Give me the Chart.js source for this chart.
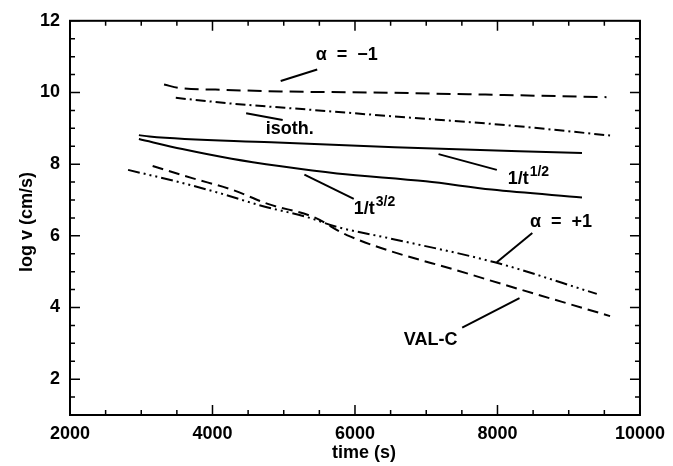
<!DOCTYPE html>
<html>
<head>
<meta charset="utf-8">
<script src="https://cdn.jsdelivr.net/npm/chart.js@4.4.1/dist/chart.umd.min.js"></script>
<style>
  html, body { margin: 0; padding: 0; background: #fff; }
  #wrap { width: 673px; height: 466px; }
</style>
</head>
<body>
<div id="wrap"><canvas id="chart"></canvas></div>
<script>
// axis ticks
const xTicks = [2000, 4000, 6000, 8000, 10000];
const yTicks = [2, 4, 6, 8, 10, 12];

// alpha = -1 (long dashes)
const alphaMinusT = [3320, 3550, 4040, 4960, 6530, 7830, 9530];
const alphaMinusV = [10.22, 10.12, 10.08, 10.03, 9.99, 9.94, 9.87];

// isothermal (dash-dot)
const isothT = [3485, 4270, 5425, 6555, 8055, 9580];
const isothV = [9.85, 9.69, 9.51, 9.33, 9.10, 8.80];

// 1/t^1/2 (solid)
const halfT = [2967, 3115, 4823, 6555, 9186];
const halfV = [8.81, 8.77, 8.61, 8.47, 8.31];

// 1/t^3/2 (solid)
const threeHalfT = [2967, 3576, 4269, 4962, 5747, 6994, 7917, 9186];
const threeHalfV = [8.70, 8.42, 8.15, 7.94, 7.74, 7.52, 7.29, 7.07];

// VAL-C (dashed)
const valcT = [3160, 3715, 4270, 4777, 5424, 5885, 7593, 9580];
const valcV = [7.95, 7.61, 7.29, 6.89, 6.52, 6.02, 4.94, 3.76];

// alpha = +1 (dash-dot-dot-dot)
const alphaPlusT = [2815, 3485, 4085, 4685, 5331, 5746, 6485, 7963, 9394];
const alphaPlusV = [7.84, 7.52, 7.20, 6.84, 6.52, 6.25, 5.93, 5.26, 4.38];

// curve labels and their pointer lines, in data units
const labelText = ['α  =  −1', 'isoth.', '1/t', '1/t', 'α  =  +1', 'VAL-C'];
const labelSup = ['', '', '1/2', '3/2', '', ''];
const labelT = [5885, 5083, 8143, 5983, 8891, 7062];
const labelV = [11.05, 8.99, 7.44, 6.60, 6.38, 3.09];
const labelAlign = ['center', 'center', 'left', 'left', 'center', 'center'];
const pointerT = [[4957, 5470], [4472, 4985], [7173, 7991], [5290, 5983], [8489, 7990], [7505, 8309]];
const pointerV = [[10.32, 10.64], [9.42, 9.23], [8.28, 7.84], [7.71, 7.03], [6.08, 5.26], [3.44, 4.26]];

const FONT = 'Liberation Sans, Arial, sans-serif';

function pts(ts, vs) {
  return ts.map((t, i) => ({ x: t, y: vs[i] }));
}

function curve(ts, vs, dash) {
  return {
    data: pts(ts, vs),
    borderColor: '#000',
    borderWidth: 2,
    borderDash: dash,
    pointRadius: 0,
    showLine: true,
    cubicInterpolationMode: 'monotone'
  };
}

const datasets = [
  curve(alphaMinusT, alphaMinusV, [14, 7]),
  curve(isothT, isothV, [10, 4, 2, 4]),
  curve(halfT, halfV, []),
  curve(threeHalfT, threeHalfV, []),
  curve(valcT, valcV, [11, 6]),
  curve(alphaPlusT, alphaPlusV, [12, 4, 2, 4, 2, 4, 2, 4])
];
pointerT.forEach((ts, i) => {
  datasets.push({
    data: pts(ts, pointerV[i]),
    borderColor: '#000',
    borderWidth: 2,
    pointRadius: 0,
    showLine: true
  });
});

// frame with inward ticks on all four sides, axis titles and curve labels
const framePlugin = {
  id: 'frame',
  afterDatasetsDraw(chart) {
    const ctx = chart.ctx;
    const a = chart.chartArea;
    const xs = chart.scales.x, ys = chart.scales.y;
    ctx.save();
    ctx.strokeStyle = '#000';
    ctx.lineWidth = 2;
    ctx.strokeRect(a.left, a.top, a.right - a.left, a.bottom - a.top);

    ctx.lineWidth = 1.5;
    ctx.beginPath();
    for (let v = 2000; v <= 10000; v += 500) {
      const px = xs.getPixelForValue(v);
      const len = v % 2000 === 0 ? 10 : 5;
      ctx.moveTo(px, a.bottom); ctx.lineTo(px, a.bottom - len);
      ctx.moveTo(px, a.top); ctx.lineTo(px, a.top + len);
    }
    for (let v = 1; v <= 12; v += 0.5) {
      const py = ys.getPixelForValue(v);
      const len = v % 2 === 0 ? 10 : 5;
      ctx.moveTo(a.left, py); ctx.lineTo(a.left + len, py);
      ctx.moveTo(a.right, py); ctx.lineTo(a.right - len, py);
    }
    ctx.stroke();

    ctx.fillStyle = '#000';
    ctx.font = 'bold 18px ' + FONT;
    ctx.textAlign = 'center';
    ctx.textBaseline = 'middle';
    ctx.fillText('time (s)', 364, 453);
    ctx.save();
    ctx.translate(27, 222);
    ctx.rotate(-Math.PI / 2);
    ctx.fillText('log v (cm/s)', 0, 0);
    ctx.restore();

    labelText.forEach((txt, i) => {
      const px = xs.getPixelForValue(labelT[i]);
      const py = ys.getPixelForValue(labelV[i]);
      ctx.font = 'bold 18px ' + FONT;
      ctx.textAlign = labelAlign[i];
      if (labelSup[i]) {
        ctx.textBaseline = 'alphabetic';
        ctx.fillText(txt, px, py);
        const w = ctx.measureText(txt).width;
        ctx.font = 'bold 14px ' + FONT;
        ctx.fillText(labelSup[i], px + w + 1, py - 8);
        ctx.textBaseline = 'middle';
      } else {
        ctx.fillText(txt, px, py);
      }
    });
    ctx.restore();
  }
};

new Chart(document.getElementById('chart'), {
  type: 'scatter',
  data: { datasets },
  options: {
    responsive: true,
    maintainAspectRatio: false,
    animation: false,
    layout: { padding: { top: 10, right: 26, left: 0, bottom: 0 } },
    plugins: { legend: { display: false }, tooltip: { enabled: false } },
    scales: {
      x: {
        type: 'linear',
        min: 2000,
        max: 10000,
        afterBuildTicks: s => { s.ticks = xTicks.map(v => ({ value: v })); },
        afterFit: s => { s.height = 51; },
        grid: { display: false, drawTicks: false },
        border: { display: false },
        ticks: { color: '#000', padding: 8, maxRotation: 0, callback: v => String(v), font: { family: FONT, size: 18, weight: 'bold' } }
      },
      y: {
        type: 'linear',
        min: 1,
        max: 12,
        afterBuildTicks: s => { s.ticks = yTicks.map(v => ({ value: v })); },
        afterFit: s => { s.width = 70; },
        grid: { display: false, drawTicks: false },
        border: { display: false },
        ticks: { color: '#000', padding: 10, callback: v => String(v), font: { family: FONT, size: 18, weight: 'bold' } }
      }
    }
  },
  plugins: [framePlugin]
});
</script>
</body>
</html>
